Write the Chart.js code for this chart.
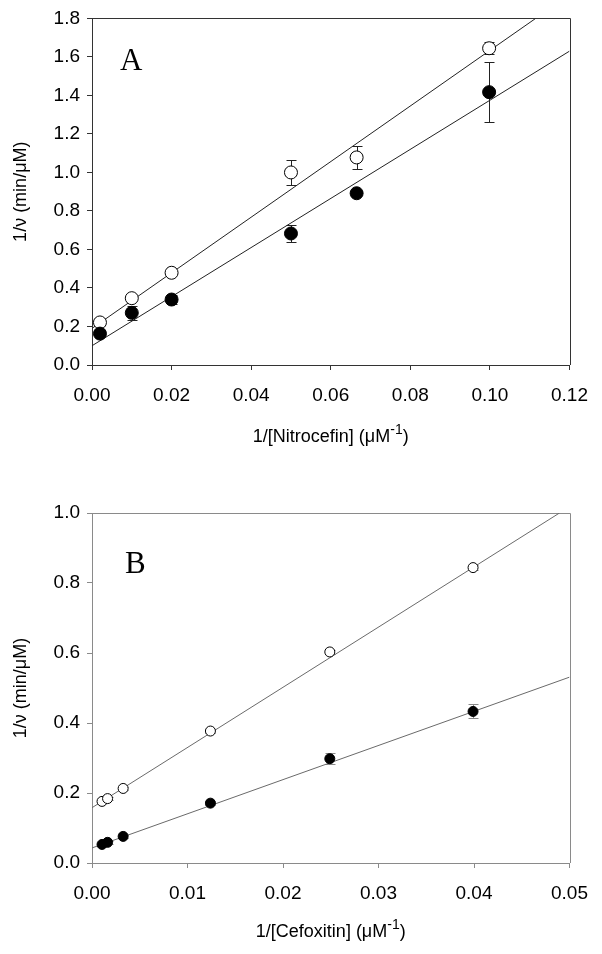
<!DOCTYPE html>
<html>
<head>
<meta charset="utf-8">
<script src="https://cdn.jsdelivr.net/npm/chart.js@4.4.0/dist/chart.umd.min.js"></script>
<style>
  html, body { margin: 0; padding: 0; background: #fff; }
  .panel { position: absolute; left: 0; width: 602px; height: 477px; }
  #panelA { top: 0; }
  #panelB { top: 477px; }
</style>
</head>
<body>
<div class="panel" id="panelA"><canvas id="chartA" width="602" height="477"></canvas></div>
<div class="panel" id="panelB"><canvas id="chartB" width="602" height="477"></canvas></div>
<script>
// Panel A: 1/[Nitrocefin]
var nitroX = [0.002, 0.01, 0.02, 0.05, 0.0665, 0.0998];
var nitroOpen = [0.221, 0.347, 0.479, 1.0, 1.078, 1.645];
var nitroOpenErr = [0.008, 0.01, 0.008, 0.063, 0.06, 0.032];
var nitroFilled = [0.163, 0.271, 0.34, 0.683, 0.892, 1.417];
var nitroFilledErr = [0.01, 0.036, 0.022, 0.042, 0.01, 0.155];
var nitroOpenFit = [[0, 0.19], [0.1115, 1.8]];
var nitroFilledFit = [[0, 0.10], [0.12, 1.63]];
var nitroXTicks = [0, 0.02, 0.04, 0.06, 0.08, 0.10, 0.12];
var nitroYTicks = [0, 0.2, 0.4, 0.6, 0.8, 1.0, 1.2, 1.4, 1.6, 1.8];

// Panel B: 1/[Cefoxitin]
var cefoX = [0.00105, 0.00163, 0.00326, 0.0124, 0.0249, 0.0399];
var cefoOpen = [0.176, 0.184, 0.213, 0.377, 0.603, 0.844];
var cefoOpenErr = [0.004, 0.004, 0.004, 0.005, 0.006, 0.008];
var cefoFilled = [0.053, 0.059, 0.076, 0.171, 0.298, 0.433];
var cefoFilledErr = [0.004, 0.004, 0.004, 0.005, 0.016, 0.02];
var cefoOpenFit = [[0, 0.158], [0.04895, 1.0]];
var cefoFilledFit = [[0, 0.043], [0.05, 0.531]];
var cefoXTicks = [0, 0.01, 0.02, 0.03, 0.04, 0.05];
var cefoYTicks = [0, 0.2, 0.4, 0.6, 0.8, 1.0];

var pts = function (xs, ys) {
  return xs.map(function (x, i) { return { x: x, y: ys[i] }; });
};
var pairs = function (arr) {
  return arr.map(function (p) { return { x: p[0], y: p[1] }; });
};

// error bars, drawn under the symbols
var errorBars = {
  id: 'errorBars',
  beforeDatasetsDraw: function (chart) {
    var ctx = chart.ctx, xs = chart.scales.x, ys = chart.scales.y;
    chart.data.datasets.forEach(function (ds) {
      if (!ds.errors) return;
      ctx.save();
      ctx.strokeStyle = ds.errorColor;
      ctx.lineWidth = 1;
      ds.data.forEach(function (p, i) {
        var e = ds.errors[i];
        var px = Math.round(xs.getPixelForValue(p.x)) + 0.5;
        var top = Math.round(ys.getPixelForValue(p.y + e)) + 0.5;
        var bot = Math.round(ys.getPixelForValue(p.y - e)) + 0.5;
        var c = ds.capWidth;
        ctx.beginPath();
        ctx.moveTo(px, top); ctx.lineTo(px, bot);
        ctx.moveTo(px - c, top); ctx.lineTo(px + c, top);
        ctx.moveTo(px - c, bot); ctx.lineTo(px + c, bot);
        ctx.stroke();
      });
      ctx.restore();
    });
  }
};

// top/right frame, axis titles and panel letter
var panelText = {
  id: 'panelText',
  beforeDatasetsDraw: function (chart, args, opts) {
    var ctx = chart.ctx, a = chart.chartArea;
    ctx.save();
    ctx.strokeStyle = opts.frameColor;
    ctx.lineWidth = 1;
    ctx.beginPath();
    ctx.moveTo(Math.round(a.left), Math.round(a.top) + 0.5);
    ctx.lineTo(Math.round(a.right) + 0.5, Math.round(a.top) + 0.5);
    ctx.lineTo(Math.round(a.right) + 0.5, Math.round(a.bottom));
    ctx.stroke();
    ctx.restore();
  },
  afterDraw: function (chart, args, opts) {
    var ctx = chart.ctx, a = chart.chartArea;
    ctx.save();
    ctx.fillStyle = '#000';
    ctx.textBaseline = 'middle';

    // x title with superscript
    var big = '18px "Liberation Sans", Arial, sans-serif';
    var small = '14px "Liberation Sans", Arial, sans-serif';
    ctx.font = big;
    var w1 = ctx.measureText(opts.xTitle).width;
    var w3 = ctx.measureText(')').width;
    ctx.font = small;
    var w2 = ctx.measureText('-1').width;
    var x0 = (a.left + a.right) / 2 - (w1 + w2 + w3) / 2;
    ctx.textAlign = 'left';
    ctx.font = big;
    ctx.fillText(opts.xTitle, x0, opts.xTitleY);
    ctx.font = small;
    ctx.fillText('-1', x0 + w1, opts.xTitleY - 7);
    ctx.font = big;
    ctx.fillText(')', x0 + w1 + w2, opts.xTitleY);

    // y title
    ctx.save();
    ctx.translate(opts.yTitleX, (a.top + a.bottom) / 2);
    ctx.rotate(-Math.PI / 2);
    ctx.textAlign = 'center';
    ctx.fillText('1/\u03bd (min/\u03bcM)', 0, 0);
    ctx.restore();

    // panel letter
    ctx.font = '31px "Liberation Serif", "Times New Roman", serif';
    ctx.textBaseline = 'alphabetic';
    ctx.fillText(opts.letter, opts.letterX, opts.letterY);
    ctx.restore();
  }
};

function makePanel(id, p) {
  var tickFont = { family: '"Liberation Sans", Arial, sans-serif', size: 19 };
  var axis = function (ticks, digits, extra) {
    var s = {
      type: 'linear',
      min: ticks[0],
      max: ticks[ticks.length - 1],
      afterBuildTicks: function (scale) {
        scale.ticks = ticks.map(function (v) { return { value: v }; });
      },
      ticks: {
        color: '#000',
        font: tickFont,
        autoSkip: false,
        maxRotation: 0,
        callback: function (v) { return Number(v).toFixed(digits); }
      },
      grid: {
        display: true,
        drawOnChartArea: false,
        drawTicks: true,
        tickLength: 5,
        color: p.axisColor
      },
      border: { display: true, color: p.axisColor, width: 1 }
    };
    for (var k in extra) s[k] = extra[k];
    s.ticks.padding = extra.tickPadding;
    return s;
  };

  return new Chart(document.getElementById(id), {
    type: 'scatter',
    data: {
      datasets: [
        {
          data: pts(p.x, p.filled),
          errors: p.filledErr,
          errorColor: p.barColor,
          capWidth: p.cap,
          pointRadius: p.r,
          pointBackgroundColor: '#000',
          pointBorderColor: '#000',
          pointBorderWidth: 1
        },
        {
          data: pts(p.x, p.open),
          errors: p.openErr,
          errorColor: p.barColor,
          capWidth: p.cap,
          pointRadius: p.r,
          pointBackgroundColor: '#fff',
          pointBorderColor: '#000',
          pointBorderWidth: 1
        },
        {
          type: 'line',
          data: pairs(p.openFit),
          borderColor: p.lineColor,
          borderWidth: 1,
          pointRadius: 0,
          fill: false
        },
        {
          type: 'line',
          data: pairs(p.filledFit),
          borderColor: p.lineColor,
          borderWidth: 1,
          pointRadius: 0,
          fill: false
        }
      ]
    },
    options: {
      responsive: false,
      animation: false,
      devicePixelRatio: 1,
      layout: { padding: { top: p.top, right: 30, bottom: 0, left: 0 } },
      plugins: {
        legend: { display: false },
        tooltip: { enabled: false },
        panelText: {
          frameColor: p.axisColor,
          xTitle: p.xTitle,
          xTitleY: p.xTitleY,
          yTitleX: 21,
          letter: p.letter,
          letterX: p.letterX,
          letterY: p.letterY
        }
      },
      scales: {
        x: axis(p.xTicks, 2, {
          position: 'bottom',
          tickPadding: 14,
          afterFit: function (scale) { scale.height = 477 - p.bottom; }
        }),
        y: axis(p.yTicks, 1, {
          position: 'left',
          tickPadding: 7,
          afterFit: function (scale) { scale.width = 92; }
        })
      }
    },
    plugins: [errorBars, panelText]
  });
}

makePanel('chartA', {
  x: nitroX, open: nitroOpen, openErr: nitroOpenErr,
  filled: nitroFilled, filledErr: nitroFilledErr,
  openFit: nitroOpenFit, filledFit: nitroFilledFit,
  xTicks: nitroXTicks, yTicks: nitroYTicks,
  top: 18, bottom: 365,
  r: 6.5, cap: 5,
  axisColor: '#333', lineColor: '#222', barColor: '#222',
  xTitle: '1/[Nitrocefin] (\u03bcM', xTitleY: 437,
  letter: 'A', letterX: 120, letterY: 70
});

makePanel('chartB', {
  x: cefoX, open: cefoOpen, openErr: cefoOpenErr,
  filled: cefoFilled, filledErr: cefoFilledErr,
  openFit: cefoOpenFit, filledFit: cefoFilledFit,
  xTicks: cefoXTicks, yTicks: cefoYTicks,
  top: 36, bottom: 386,
  r: 5, cap: 5,
  axisColor: '#8a8a8a', lineColor: '#6a6a6a', barColor: '#888',
  xTitle: '1/[Cefoxitin] (\u03bcM', xTitleY: 455,
  letter: 'B', letterX: 125, letterY: 96
});
</script>
</body>
</html>
